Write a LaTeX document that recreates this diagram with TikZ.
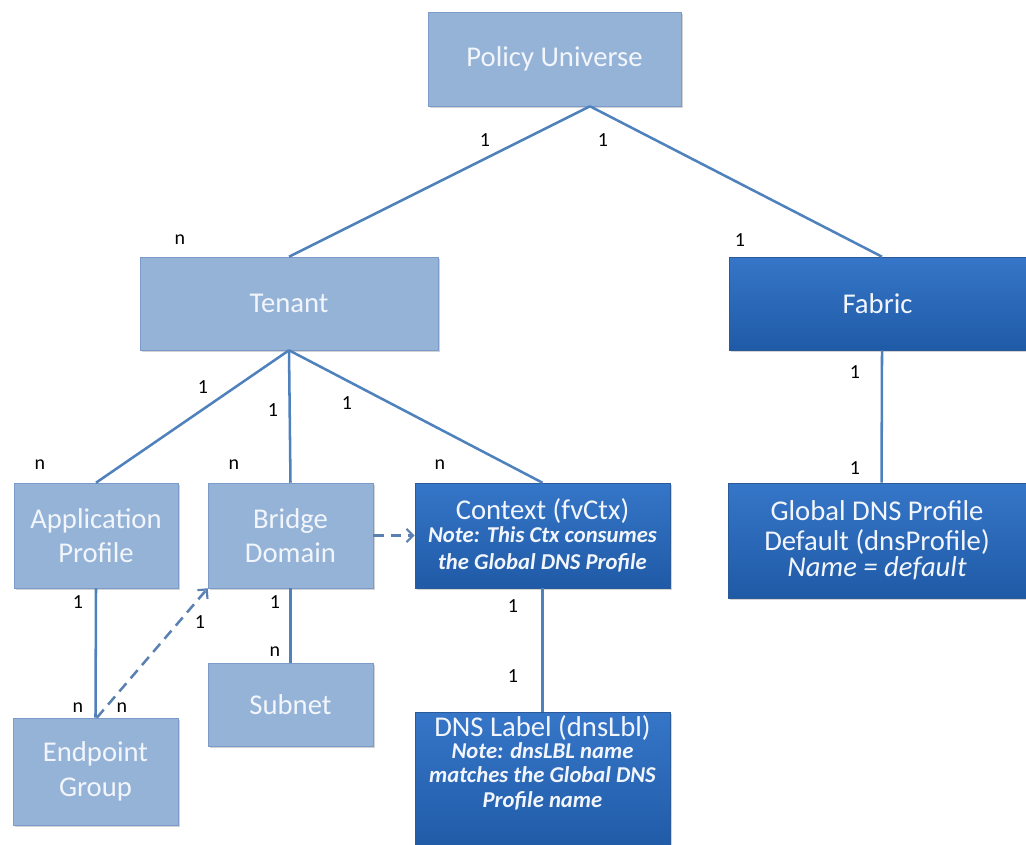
\documentclass[tikz,border=0pt]{standalone}
\usepackage{fontspec}
\setmainfont{Carlito}
\usetikzlibrary{shadows,arrows.meta}

\definecolor{lightfill}{HTML}{95B3D7}
\definecolor{lightedge}{HTML}{7B9BC8}
\definecolor{darktop}{HTML}{3676C8}
\definecolor{darkbot}{HTML}{1F5AA6}
\definecolor{darkedge}{HTML}{2A5A9A}
\definecolor{linkc}{HTML}{4F81BD}
\definecolor{dashc}{HTML}{5B80B2}
\definecolor{boxtext}{HTML}{F2F6FC}

\newcommand{\bigtxt}{\fontsize{21.5}{24}\selectfont}
\newcommand{\notetxt}{\fontsize{17}{19}\selectfont\bfseries\itshape}

\tikzset{
  box/.style={text=boxtext, align=center, inner sep=0pt, font=\bigtxt,
    drop shadow={opacity=0.35, shadow xshift=1.5pt, shadow yshift=-1.5pt}},
  lightbox/.style={box, draw=lightedge, fill=lightfill},
  darkbox/.style={box, draw=darkedge, top color=darktop, bottom color=darkbot},
  boxlabel/.style={text=boxtext, align=center, inner sep=0pt, font=\notetxt, anchor=north},
  link/.style={draw=linkc, line width=1.9pt},
  dlink/.style={draw=dashc, line width=1.9pt, dash pattern=on 8pt off 5pt,
    -{Straight Barb[length=5pt,width=10pt,line width=1.6pt]}},
  card/.style={font=\fontsize{15}{17}\selectfont, text=black, inner sep=0pt}
}

\begin{document}
\begin{tikzpicture}[x=0.75pt, y=-0.75pt]
\useasboundingbox (0,0) rectangle (1026,844);

% boxes
\node[lightbox, minimum width=189.75pt, minimum height=70.5pt] (pu) at (554.5,59) {Policy Universe};
\node[lightbox, minimum width=223.5pt, minimum height=69.75pt] (ten) at (289,303.5) {Tenant};
\node[darkbox, minimum width=222.75pt, minimum height=69.75pt] (fab) at (877.5,303.5) {Fabric};
\node[lightbox, minimum width=123pt, minimum height=78.75pt] (ap) at (96,535.5) {Application\\[2pt]Profile};
\node[lightbox, minimum width=123.75pt, minimum height=78.75pt] (bd) at (290.5,535.5) {Bridge\\[2pt]Domain};
\node[darkbox, minimum width=191.25pt, minimum height=78.75pt] (ctx) at (542.5,535.5) {};
\node[boxlabel] (ctxtxt) at ([yshift=-12pt]ctx.north)
  {{\bigtxt\mdseries\upshape Context (fvCtx)}\\[-1.75pt]Note: This Ctx consumes\\[1.25pt]the Global DNS Profile};
\node[darkbox, minimum width=223.5pt, minimum height=86.25pt] (gdp) at (877,540.5)
  {Global DNS Profile\\[-2pt]Default (dnsProfile)\\[-4pt]\itshape Name = default};
\node[lightbox, minimum width=123.75pt, minimum height=62.25pt] (sub) at (290.5,704.5) {Subnet};
\node[lightbox, minimum width=123.75pt, minimum height=80.25pt] (eg) at (95.5,771.5) {Endpoint\\[2pt]Group};
\node[darkbox, minimum width=191.25pt, minimum height=105pt, anchor=north] (dns) at (542.5,712) {};
\node[boxlabel] (dnstxt) at ([yshift=-2.5pt]dns.north)
  {{\bigtxt\mdseries\upshape DNS Label (dnsLbl)}\\[-2.25pt]Note: dnsLBL name\\[-1.5pt]matches the Global DNS\\Profile name};

% connectors
\draw[link] ([xshift=26.6pt]pu.south) -- (ten.north);
\draw[link] ([xshift=26.6pt]pu.south) -- ([xshift=3.4pt]fab.north);
\draw[link] (ten.south) -- (ap.north);
\draw[link] (ten.south) -- (bd.north);
\draw[link] (ten.south) -- (ctx.north);
\draw[link] ([xshift=3.4pt]fab.south) -- ([xshift=3.4pt]gdp.north);
\draw[link] (ap.south) -- (eg.north);
\draw[link] (bd.south) -- (sub.north);
\draw[link] (ctx.south) -- (dns.north);
\draw[dlink] ([xshift=1pt]eg.north) -- (bd.south west);
\draw[dlink] (bd.east) -- (ctx.west);

% cardinalities
\node[card] (c1) at (485,140) {1};
\node[card] (c2) at (603,140) {1};
\node[card] (c3) at (180,240) {n};
\node[card] (c4) at (740,240) {1};
\node[card] (c5) at (203,387) {1};
\node[card] (c6) at (273,410) {1};
\node[card] (c7) at (347,403) {1};
\node[card] (c8) at (40,465) {n};
\node[card] (c9) at (234,465) {n};
\node[card] (c10) at (440,465) {n};
\node[card] (c11) at (855,372) {1};
\node[card] (c12) at (855,468) {1};
\node[card] (c13) at (78,602) {1};
\node[card] (c14) at (275,602) {1};
\node[card] (c15) at (200,622) {1};
\node[card] (c16) at (275,652) {n};
\node[card] (c17) at (78,708) {n};
\node[card] (c18) at (122,708) {n};
\node[card] (c19) at (513,606) {1};
\node[card] (c20) at (513,676) {1};
\end{tikzpicture}
\end{document}
